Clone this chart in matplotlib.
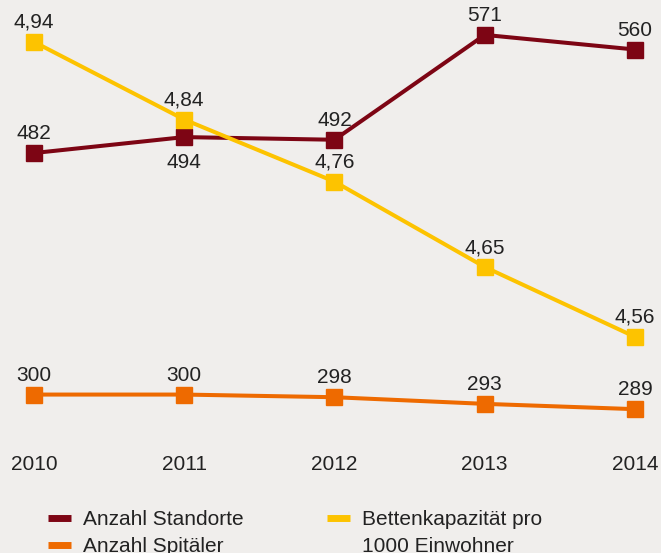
import matplotlib
matplotlib.use('Agg')
import matplotlib.pyplot as plt
from matplotlib.lines import Line2D

# data
years = [2010, 2011, 2012, 2013, 2014]
standorte = [482, 494, 492, 571, 560]
spitaeler = [300, 300, 298, 293, 289]
betten = [4.94, 4.84, 4.76, 4.65, 4.56]
betten_labels = ['4,94', '4,84', '4,76', '4,65', '4,56']
# label above (+1) or below (-1) the marker
standorte_pos = [1, -1, 1, 1, 1]

c_standorte = '#7d0514'
c_spitaeler = '#ee6a00'
c_betten = '#fdc300'
bg = '#f0eeec'
txt = '#222222'

plt.rcParams['font.family'] = ['Liberation Sans', 'DejaVu Sans']

W, H = 661, 553
fig = plt.figure(figsize=(W/100, H/100), dpi=100)
fig.patch.set_facecolor(bg)

# axes from pixel row 0 to 430
ax = fig.add_axes([0, 1 - 430/H, 1, 430/H])
ax.set_facecolor(bg)
ax2 = ax.twinx()

ax.set_xlim(2009.774, 2014.173)
ax.set_ylim(273.3, 597.3)
ax2.set_ylim(4.44, 4.994)

lw = 2.9
ms = 11.5
ax.plot(years, standorte, color=c_standorte, lw=lw, marker='s', ms=ms, clip_on=False)
ax.plot(years, spitaeler, color=c_spitaeler, lw=lw, marker='s', ms=ms, clip_on=False)
ax2.plot(years, betten, color=c_betten, lw=lw, marker='s', ms=ms, clip_on=False)

fs = 15
def off(p):
    return 14 if p > 0 else -18

for x, v, p in zip(years, standorte, standorte_pos):
    ax.annotate(str(v), (x, v), xytext=(0, off(p)), textcoords='offset points',
                ha='center', va='center', fontsize=fs, color=txt)
for x, v in zip(years, spitaeler):
    ax.annotate(str(v), (x, v), xytext=(0, off(1)), textcoords='offset points',
                ha='center', va='center', fontsize=fs, color=txt)
for x, v, s in zip(years, betten, betten_labels):
    ax2.annotate(s, (x, v), xytext=(0, off(1)), textcoords='offset points',
                 ha='center', va='center', fontsize=fs, color=txt)

for a in (ax, ax2):
    for sp in a.spines.values():
        sp.set_visible(False)
    a.set_yticks([])
ax.set_xticks(years)
ax.set_xticklabels([str(y) for y in years])
ax.tick_params(axis='x', length=0, pad=18, labelsize=fs, labelcolor=txt)

# legend
leg_kw = dict(loc='upper left', frameon=False, fontsize=fs, handlelength=1.1,
              handletextpad=0.58, labelspacing=0.4, borderpad=0, borderaxespad=0,
              labelcolor=txt)
h1 = [Line2D([], [], color=c_standorte, lw=5, solid_capstyle='butt'),
      Line2D([], [], color=c_spitaeler, lw=5, solid_capstyle='butt')]
fig.legend(h1, ['Anzahl Standorte', 'Anzahl Spitäler'],
           bbox_to_anchor=(48/W, 1 - 510/H), **leg_kw)
h2 = [Line2D([], [], color=c_betten, lw=5, solid_capstyle='butt'),
      Line2D([], [], color='none', lw=0)]
fig.legend(h2, ['Bettenkapazität pro', '1000 Einwohner'],
           bbox_to_anchor=(327/W, 1 - 510/H), **leg_kw)

fig.savefig('out.png', dpi=100, facecolor=bg)
